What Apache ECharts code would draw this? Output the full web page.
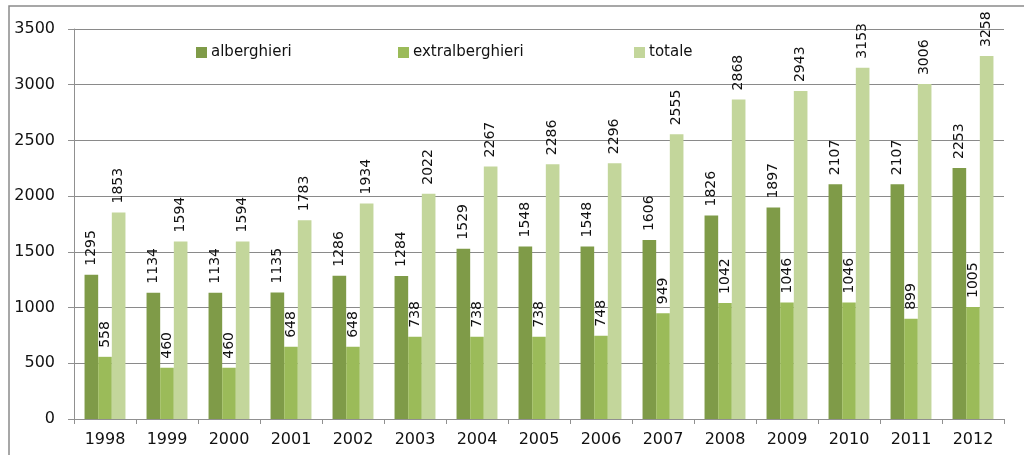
<!DOCTYPE html>
<html>
<head>
<meta charset="utf-8">
<script src="https://cdn.jsdelivr.net/npm/echarts@6/dist/echarts.min.js"></script>
<style>html,body{margin:0;padding:0;background:#fff;}#c{width:1024px;height:455px;}</style>
</head>
<body>
<div id="c"></div>
<script>
const categories = ['1998','1999','2000','2001','2002','2003','2004','2005','2006','2007','2008','2009','2010','2011','2012'];
const alberghieri = [1295,1134,1134,1135,1286,1284,1529,1548,1548,1606,1826,1897,2107,2107,2253];
const extralberghieri = [558,460,460,648,648,738,738,738,748,949,1042,1046,1046,899,1005];
const totale = [1853,1594,1594,1783,1934,2022,2267,2286,2296,2555,2868,2943,3153,3006,3258];
const seriesNames = ['alberghieri','extralberghieri','totale'];
const colors = ['#7F9B48','#9BBB59','#C3D69B'];
const font = 'DejaVu Sans';

const chart = echarts.init(document.getElementById('c'), null, {renderer:'canvas'});
const label = {
  show: true, position: 'top', rotate: 90, align: 'left', verticalAlign: 'middle',
  distance: 9, color: '#111', fontFamily: font, fontSize: 14
};
const legendLefts = [191, 393, 629];
chart.setOption({
  animation: false,
  color: colors,
  graphic: [{
    type: 'rect', shape: {x: 9, y: 6, width: 1030, height: 460},
    style: {fill: 'none', stroke: '#8a8a8a', lineWidth: 1.5}, silent: true, z: -10
  }],
  legend: seriesNames.map((n, i) => ({
    data: [n], left: legendLefts[i], top: 40, itemWidth: 11, itemHeight: 11, itemGap: 0,
    icon: 'rect', textStyle: {fontFamily: font, fontSize: 15, color: '#111', padding: [0,0,0,-1]},
    selectedMode: false
  })),
  grid: {left: 74, right: 20, top: 29, bottom: 36},
  xAxis: {
    type: 'category', data: categories, boundaryGap: true,
    axisLine: {lineStyle: {color: '#909090', width: 1}},
    axisTick: {show: true, length: 5, inside: false, lineStyle: {color: '#909090'}},
    axisLabel: {fontFamily: font, fontSize: 16, color: '#111', margin: 13},
    splitLine: {show: false}
  },
  yAxis: {
    type: 'value', min: 0, max: 3500, interval: 500,
    axisLine: {show: true, lineStyle: {color: '#909090', width: 1}},
    axisTick: {show: true, length: 6, lineStyle: {color: '#909090'}},
    axisLabel: {fontFamily: font, fontSize: 16, color: '#111', margin: 19, formatter: v => String(v)},
    splitLine: {show: true, lineStyle: {color: '#8a8a8a', width: 1}}
  },
  series: [
    {name: seriesNames[0], type: 'bar', data: alberghieri, barGap: '0%', barCategoryGap: '34%', label},
    {name: seriesNames[1], type: 'bar', data: extralberghieri, barGap: '0%', barCategoryGap: '34%', label},
    {name: seriesNames[2], type: 'bar', data: totale, barGap: '0%', barCategoryGap: '34%', label}
  ]
});
</script>
</body>
</html>
